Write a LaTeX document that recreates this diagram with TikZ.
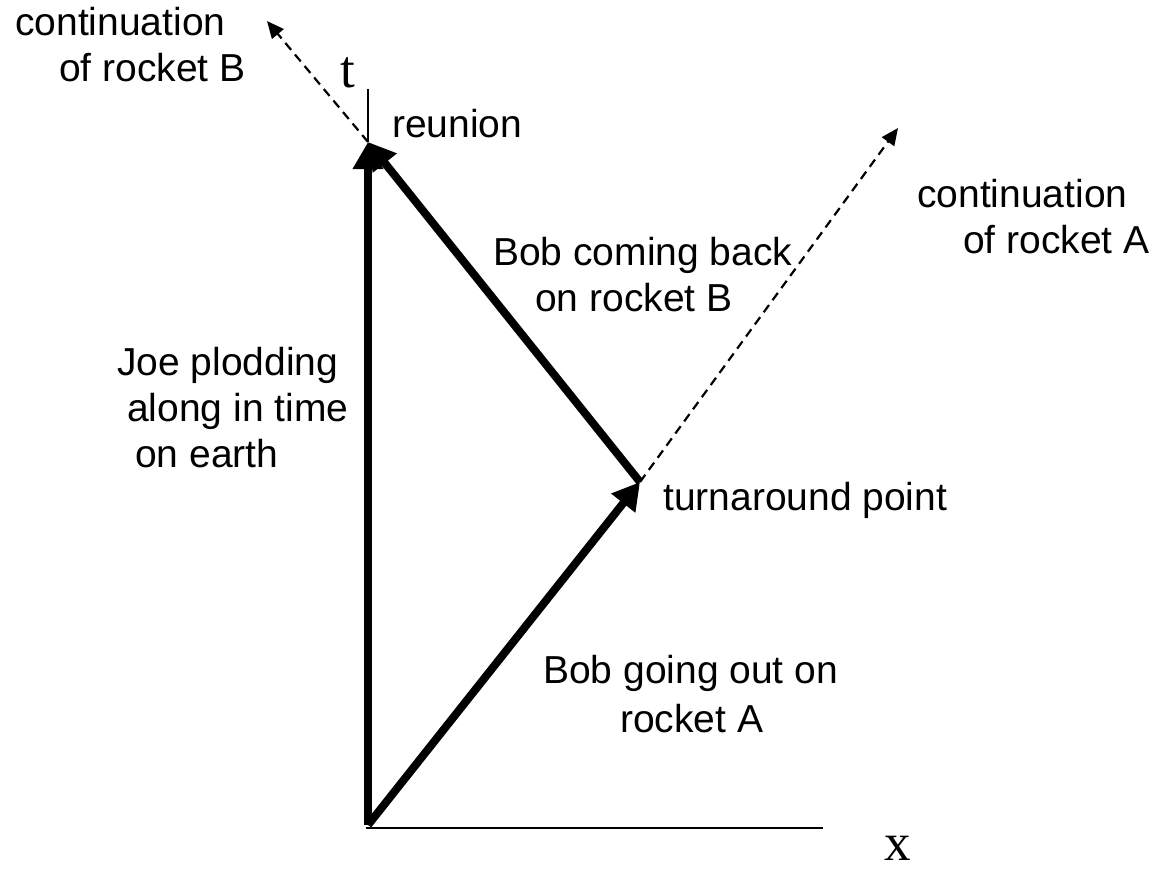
\documentclass[tikz,border=0pt]{standalone}
\usepackage{fontspec}
\setmainfont{Liberation Sans}
\newfontfamily\serifx{Liberation Serif}
\usetikzlibrary{arrows.meta}
\begin{document}
\begin{tikzpicture}[x=1pt,y=-1pt,
  lbl/.style={anchor=base west, inner sep=0pt, font=\fontsize{39}{46}\selectfont},
  axlbl/.style={anchor=base, inner sep=0pt, font=\serifx\fontsize{53}{58}\selectfont},
  world/.style={line width=8pt, -{Triangle[length=27pt,width=29pt]}},
  cont/.style={line width=2.2pt, dash pattern=on 9pt off 6pt, -{Triangle[length=17pt,width=15pt]}},
  axisline/.style={line width=2.5pt}]
\useasboundingbox (0,0) rectangle (1155,872);
% events
\coordinate (O) at (368,825);
\coordinate (T) at (640,482);
\coordinate (R) at (368,142);
\coordinate (Bend) at (267,21);
\coordinate (Aend) at (898,128);
\coordinate (ttop) at (368,89);
\coordinate (xorig) at (366,828);
\coordinate (xend) at (823,828);
% axes
\draw[axisline] (xorig) -- (xend);
\draw[line width=2pt] (R) -- (ttop);
% continuations
\draw[cont] (R) -- (Bend);
\draw[cont] (T) -- (Aend);
% world lines
\draw[world] (O) -- (R);
\draw[world] (O) -- (T);
\draw[world] (T) -- (R);
% labels
\node[lbl] (contB1) at (15,36) {continuation};
\node[lbl] (contB2) at (59,82) {of rocket B};
\node[axlbl] (tlab) at (348,88) {t};
\node[lbl] (reu) at (392,137) {reunion};
\node[lbl] (contA1) at (917,207) {continuation};
\node[lbl] (contA2) at (963,253) {of rocket A};
\node[lbl] (back1) at (493,265) {Bob coming back};
\node[lbl] (back2) at (535,311) {on rocket B};
\node[lbl] (joe1) at (117,375) {Joe plodding};
\node[lbl] (joe2) at (127,421) {along in time};
\node[lbl] (joe3) at (135,467) {on earth};
\node[lbl] (turn) at (663,510) {turnaround point};
\node[lbl] (out1) at (543,683) {Bob going out on};
\node[lbl] (out2) at (620,732) {rocket A};
\node[axlbl] (xlab) at (898,860) {x};
\end{tikzpicture}
\end{document}
